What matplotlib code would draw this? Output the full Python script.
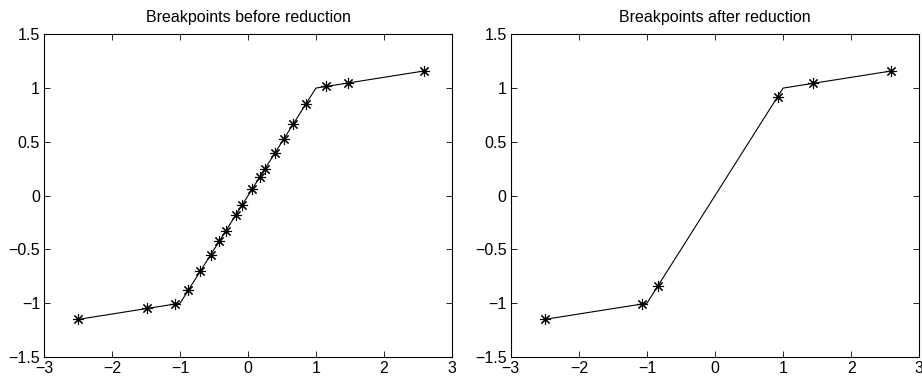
import matplotlib
matplotlib.use('Agg')
import matplotlib.pyplot as plt

plt.rcParams['font.family'] = ['Liberation Sans', 'DejaVu Sans']
plt.rcParams['font.size'] = 11.5

# Kurve (Eckpunkte der stückweise linearen Funktion)
curve_x = [-2.5, -1.0, 1.0, 2.59]
curve_y = [-1.15, -1.0, 1.0, 1.159]

# Breakpoints vor der Reduktion
before_x = [-2.5, -1.48, -1.07, -0.88, -0.70, -0.549, -0.426, -0.324, -0.181, -0.083,
            0.059, 0.176, 0.25, 0.40, 0.527, 0.665, 0.85, 1.147, 1.47, 2.59]
before_y = [-1.15, -1.048, -1.007, -0.88, -0.70, -0.549, -0.426, -0.324, -0.181, -0.083,
            0.059, 0.176, 0.25, 0.40, 0.527, 0.665, 0.85, 1.015, 1.047, 1.159]

# Breakpoints nach der Reduktion
after_x = [-2.5, -1.07, -0.84, 0.92, 1.44, 2.59]
after_y = [-1.15, -1.007, -0.84, 0.92, 1.044, 1.159]

titles = ['Breakpoints before reduction', 'Breakpoints after reduction']
xticks = [-3, -2, -1, 0, 1, 2, 3]
yticks = [-1.5, -1, -0.5, 0, 0.5, 1, 1.5]

fig = plt.figure(figsize=(9.22, 3.79), dpi=100)
ax1 = fig.add_axes([0.048, 0.058, 0.442, 0.8515])
ax2 = fig.add_axes([0.554, 0.058, 0.443, 0.8515])

for ax, bx, by, t in [(ax1, before_x, before_y, titles[0]), (ax2, after_x, after_y, titles[1])]:
    ax.plot(curve_x, curve_y, color='black', linewidth=0.8)
    ax.plot(bx, by, linestyle='none', marker=(8, 2, 0), markersize=8,
            markeredgewidth=0.8, color='black')
    ax.set_xlim(-3, 3)
    ax.set_ylim(-1.5, 1.5)
    ax.set_xticks(xticks)
    ax.set_yticks(yticks)
    ax.set_xticklabels(['\u22123', '\u22122', '\u22121', '0', '1', '2', '3'])
    ax.set_yticklabels(['\u22121.5', '\u22121', '\u22120.5', '0', '0.5', '1', '1.5'])
    ax.tick_params(direction='in', top=True, right=True, length=4, width=0.6, pad=3)
    for s in ax.spines.values():
        s.set_linewidth(0.8)
    ax.set_title(t, fontsize=11.5, pad=8.5)

plt.savefig('out.png', dpi=100)
